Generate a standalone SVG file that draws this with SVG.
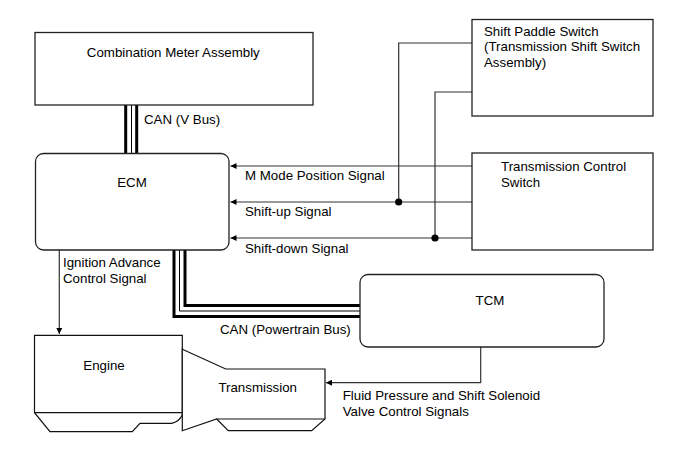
<svg xmlns="http://www.w3.org/2000/svg" width="689" height="465" viewBox="0 0 689 465">
<style>
.t{font-family:"Liberation Sans",Arial,sans-serif;font-size:13.3px;fill:#000}
.m{text-anchor:middle}
.box{fill:#fff;stroke:#222;stroke-width:1.3}
.sig{fill:none;stroke:#333;stroke-width:1.2}
.bo{fill:none;stroke:#000;stroke-width:14;stroke-linejoin:miter}
.bw{fill:none;stroke:#fff;stroke-width:8;stroke-linejoin:miter}
.bc{fill:none;stroke:#000;stroke-width:1;stroke-linejoin:miter}
.shape{fill:#fff;stroke:#111;stroke-width:1.2;stroke-linejoin:miter}
</style>
<defs>
<marker id="ah" viewBox="0 0 10 10" refX="10" refY="5" markerWidth="9" markerHeight="6" markerUnits="userSpaceOnUse" orient="auto">
<path d="M0,0 L10,5 L0,10 z" fill="#000"/>
</marker>
</defs>
<rect width="689" height="465" fill="#fff"/>

<g id="connectors">
  <!-- CAN V bus -->
  <path class="bo" d="M131.2,105 V153"/>
  <path class="bw" d="M131.2,105 V153"/>
  <path class="bc" d="M131.5,105 V153"/>
  <!-- CAN Powertrain bus -->
  <path class="bo" d="M179.5,250 V311 H360"/>
  <path class="bw" d="M179.5,250 V311 H360"/>
  <path class="bc" d="M179.5,250 V311 H360"/>
  <!-- signals from Transmission Control Switch -->
  <path class="sig" d="M472,166 H230.5" marker-end="url(#ah)"/>
  <path class="sig" d="M472,202 H230.5" marker-end="url(#ah)"/>
  <path class="sig" d="M472,238 H230.5" marker-end="url(#ah)"/>
  <!-- paddle lines -->
  <path class="sig" d="M472,43 H398.7 V202"/>
  <path class="sig" d="M472,92 H435 V238"/>
  <circle cx="398.7" cy="202" r="3.6" fill="#000"/>
  <circle cx="435" cy="238" r="3.6" fill="#000"/>
  <!-- ignition advance -->
  <path class="sig" d="M59.3,250 V334" marker-end="url(#ah)"/>
  <!-- fluid pressure -->
  <path class="sig" d="M480.7,347 V382.7 H326" marker-end="url(#ah)"/>
  <text class="t" x="144" y="124">CAN (V Bus)</text>
  <text class="t" x="245" y="180">M Mode Position Signal</text>
  <text class="t" x="245" y="216">Shift-up Signal</text>
  <text class="t" x="245" y="252.5">Shift-down Signal</text>
  <text class="t" x="63" y="267">Ignition Advance</text>
  <text class="t" x="63" y="283">Control Signal</text>
  <text class="t" x="220" y="333.5">CAN (Powertrain Bus)</text>
  <text class="t" x="342.7" y="400.2">Fluid Pressure and Shift Solenoid</text>
  <text class="t" x="342.7" y="416">Valve Control Signals</text>
</g>

<g id="combination-meter">
  <rect class="box" x="35" y="32.5" width="278" height="72.5"/>
  <text class="t m" x="173.3" y="56.7">Combination Meter Assembly</text>
</g>

<g id="ecm">
  <rect class="box" x="35.5" y="153.5" width="193.5" height="96.5" rx="8" ry="8"/>
  <text class="t m" x="132" y="186.5">ECM</text>
</g>

<g id="shift-paddle-switch">
  <rect class="box" x="472" y="19.5" width="181" height="96.5"/>
  <text class="t" x="484" y="35.5">Shift Paddle Switch</text>
  <text class="t" x="484" y="51.2">(Transmission Shift Switch</text>
  <text class="t" x="484" y="66.8">Assembly)</text>
</g>

<g id="transmission-control-switch">
  <rect class="box" x="472" y="153" width="181" height="97"/>
  <text class="t" x="501" y="171">Transmission Control</text>
  <text class="t" x="501" y="187">Switch</text>
</g>

<g id="tcm">
  <rect class="box" x="360" y="274.5" width="244" height="72.5" rx="8" ry="8"/>
  <text class="t m" x="490" y="304.7">TCM</text>
</g>

<g id="engine">
  <path class="shape" d="M34.5,335.3 H182.3 V414.7 Q180,421 171.7,423.3 H140 L132.3,431.7 H50 L34.5,412.7 Z"/>
  <path class="shape" d="M34.5,412.7 H182.3"/>
  <text class="t m" x="104" y="369.5">Engine</text>
</g>

<g id="transmission">
  <path class="shape" d="M182.3,349.3 L225.7,369 H325 V419 L311.7,430.7 H228.3 L216.7,419 L182.3,430.7 Z"/>
  <path class="shape" d="M216.7,419 H325"/>
  <text class="t m" x="257.7" y="392.2">Transmission</text>
</g>
</svg>
